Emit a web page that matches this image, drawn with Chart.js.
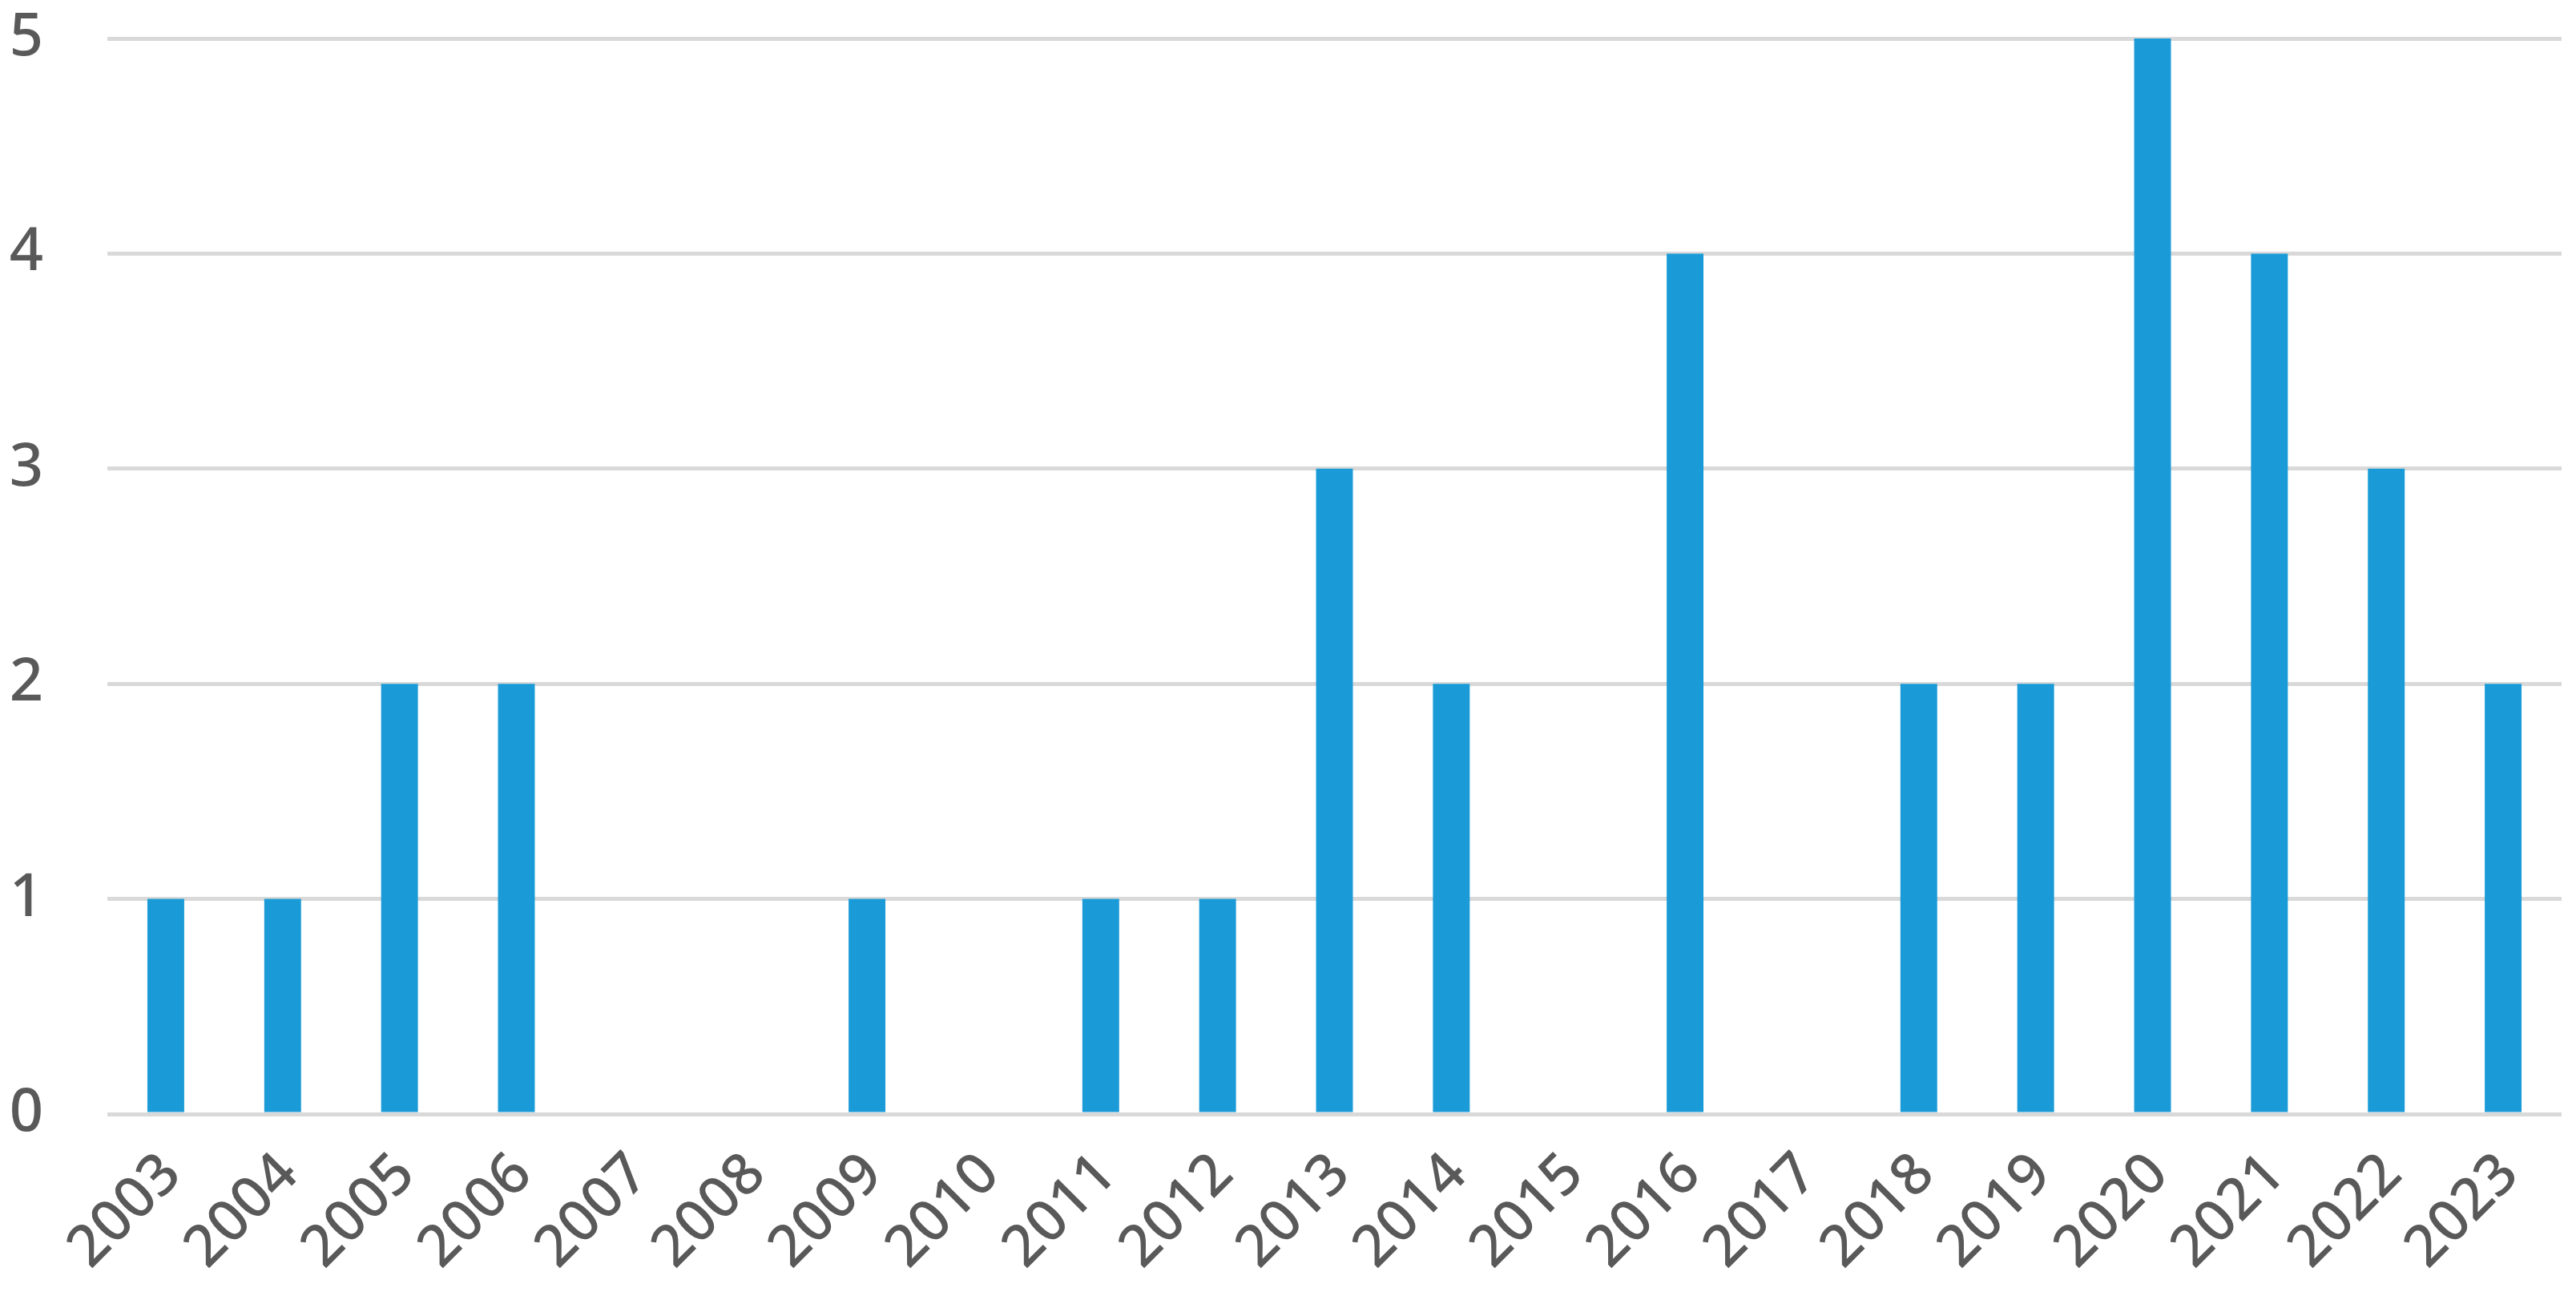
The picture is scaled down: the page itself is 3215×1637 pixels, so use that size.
<!DOCTYPE html>
<html>
<head>
<meta charset="utf-8">
<script src="https://cdn.jsdelivr.net/npm/chart.js@4/dist/chart.umd.min.js"></script>
<style>
  html, body { margin: 0; padding: 0; background: #ffffff; }
  #wrap { width: 3215px; height: 1637px; }
</style>
</head>
<body>
<div id="wrap"><canvas id="yearChart"></canvas></div>
<script>
const years = ['2003', '2004', '2005', '2006', '2007', '2008', '2009', '2010', '2011', '2012',
  '2013', '2014', '2015', '2016', '2017', '2018', '2019', '2020', '2021', '2022', '2023'];
const counts = [1, 1, 2, 2, 0, 0, 1, 0, 1, 1, 3, 2, 0, 4, 0, 2, 2, 5, 4, 3, 2];
const yTicks = [0, 1, 2, 3, 4, 5];

// keep the plot box where the picture has it, no auto padding from rotated labels
const fixBox = (w, h) => axis => {
  if (w) axis.width = w;
  if (h) axis.height = h;
  axis.paddingLeft = 0;
  axis.paddingRight = 0;
  axis.paddingTop = 0;
  axis.paddingBottom = 0;
};

const ctx = document.getElementById('yearChart').getContext('2d');
new Chart(ctx, {
  type: 'bar',
  data: {
    labels: years,
    datasets: [
      {
        label: 'Count',
        data: counts,
        backgroundColor: '#1A9BD7',
        borderWidth: 0,
        barPercentage: 0.315,
        categoryPercentage: 1,
      },
    ],
  },
  options: {
    responsive: true,
    maintainAspectRatio: false,
    animation: false,
    layout: { padding: { left: 10, right: 18, top: 48, bottom: 0 } },
    plugins: { legend: { display: false }, tooltip: { enabled: false } },
    scales: {
      x: {
        afterFit: fixBox(0, 247),
        grid: { display: false, drawTicks: false },
        border: { display: false },
        ticks: {
          color: '#595959',
          font: { family: 'Noto Sans', size: 72, weight: '500' },
          minRotation: 45,
          maxRotation: 45,
          padding: 33,
          labelOffset: 8,
        },
      },
      y: {
        min: 0,
        max: 5,
        afterBuildTicks: axis => {
          axis.ticks = yTicks.map(v => ({ value: v }));
        },
        afterFit: fixBox(124, 0),
        grid: { color: '#D9D9D9', lineWidth: 5, drawTicks: false },
        border: { display: false },
        ticks: {
          color: '#595959',
          font: { family: 'Noto Sans', size: 74, weight: '500' },
          padding: 80,
        },
      },
    },
  },
});
</script>
</body>
</html>
